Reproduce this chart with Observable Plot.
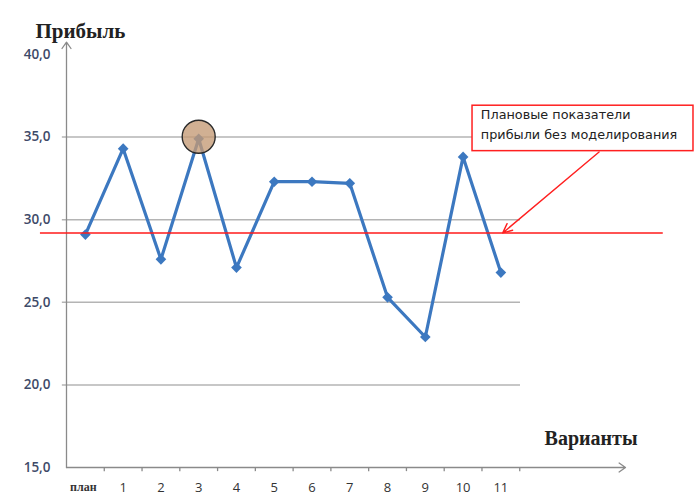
<!DOCTYPE html>
<html>
<head>
<meta charset="utf-8">
<script src="https://cdn.jsdelivr.net/npm/d3@7"></script>
<script src="https://cdn.jsdelivr.net/npm/@observablehq/plot@0.6"></script>
<style>
  html, body { margin: 0; padding: 0; background: #fff; }
  #chart svg { display: block; }
</style>
</head>
<body>
<div id="chart"></div>
<script>
// ---- data ----
const categories = ["план", "1", "2", "3", "4", "5", "6", "7", "8", "9", "10", "11"];
const profit = [29.1, 34.3, 27.6, 34.9, 27.1, 32.3, 32.3, 32.2, 25.3, 22.9, 33.8, 26.8];
const yTicks = [15, 20, 25, 30, 35, 40];
const gridValues = [20, 25, 30, 35];
const planLevel = 29.2;
const highlightIndex = 3;
const yTitle = "Прибыль";
const xTitle = "Варианты";
const noteLines = ["Плановые показатели", "прибыли без моделирования"];

// annotation placement (data coordinates)
const note = { x1: 10.25, x2: 16.1, y1: 36.9, y2: 34.15, textX: 10.47, arrowFrom: [13.6, 34.1], arrowTo: [11.05, planLevel] };

const rows = categories.map((c, i) => ({ i, c, v: profit[i] }));
const boundaries = d3.range(0.5, categories.length, 1);
const fmt = v => v.toFixed(1).replace(".", ",");

const blue = "#3c78c0";

const chart = Plot.plot({
  width: 694,
  height: 495,
  marginLeft: 66,
  marginRight: 69,
  marginTop: 54,
  marginBottom: 28,
  x: { type: "linear", domain: [-0.5, 14.3], axis: null },
  y: { domain: [15, 40], axis: null },
  style: { background: "#fff", fontFamily: "'Open Sans', 'DejaVu Sans', sans-serif" },
  marks: [
    // grid lines
    Plot.ruleY(gridValues, { x1: -0.61, x2: 11.52, stroke: "#b4b4b4", strokeWidth: 1.5 }),
    // y axis with arrow
    Plot.arrow([0], { x1: -0.5, x2: -0.5, y1: 15, y2: 40.75, stroke: "#8a8a8a", strokeWidth: 1.3, headLength: 9, headAngle: 70 }),
    // x axis with arrow
    Plot.arrow([0], { x1: -0.5, x2: 14.3, y1: 15, y2: 15, stroke: "#8a8a8a", strokeWidth: 1.3, headLength: 9, headAngle: 70 }),
    // x ticks between categories
    Plot.ruleX(boundaries, { y1: 15, y2: 14.75, stroke: "#8a8a8a", strokeWidth: 1.3 }),
    // y tick labels
    Plot.text(yTicks, { x: -0.5, y: d => d, text: d => fmt(d), dx: -16, textAnchor: "end", fill: "#3e4a68", fontSize: 13.5, fontWeight: 600 }),
    // x tick labels
    Plot.text(rows.filter(d => d.i > 0), { x: "i", y: 15, text: "c", dy: 20, fill: "#333", fontSize: 13 }),
    Plot.text(rows.filter(d => d.i === 0), { x: "i", y: 15, text: "c", dy: 20, dx: -2, fill: "#333", fontSize: 12, fontWeight: "bold", fontFamily: "'Liberation Serif', serif" }),
    // data line
    Plot.line(rows, { x: "i", y: "v", stroke: blue, strokeWidth: 3.2 }),
    Plot.dot(rows, { x: "i", y: "v", symbol: "diamond2", r: 4.8, fill: blue }),
    // highlight circle
    Plot.dot([rows[highlightIndex]], { x: "i", y: "v", r: 16.5, fill: "#c49a74", fillOpacity: 0.78, stroke: "#2a2a2a", strokeWidth: 1.4, dy: -2 }),
    // plan level red line
    Plot.ruleY([planLevel], { x1: -1.19, x2: 15.3, stroke: "#ff1a1a", strokeWidth: 1.5 }),
    // annotation box
    Plot.rect([0], { x1: note.x1, x2: note.x2, y1: note.y1, y2: note.y2, fill: "#fff", stroke: "#ff2020", strokeWidth: 1.5 }),
    Plot.text(noteLines, { x: note.textX, y: (d, k) => note.y1 - 0.55 - k * 1.2, text: d => d, textAnchor: "start", fontSize: 12.8, fill: "#222", fontFamily: "'DejaVu Sans', sans-serif" }),
    Plot.arrow([0], { x1: note.arrowFrom[0], y1: note.arrowFrom[1], x2: note.arrowTo[0], y2: note.arrowTo[1], stroke: "#ff2020", strokeWidth: 1.4, headLength: 11, headAngle: 50 }),
    // titles
    Plot.text([yTitle], { frameAnchor: "top-left", text: d => d, dx: -31, dy: -31, textAnchor: "start", fontSize: 21, fontWeight: "bold", fill: "#222", fontFamily: "'Liberation Serif', serif" }),
    Plot.text([xTitle], { frameAnchor: "bottom-right", text: d => d, dx: 12, dy: -23, textAnchor: "end", fontSize: 20, fontWeight: "bold", fill: "#222", fontFamily: "'Liberation Serif', serif" })
  ]
});
document.getElementById("chart").appendChild(chart);
</script>
</body>
</html>
